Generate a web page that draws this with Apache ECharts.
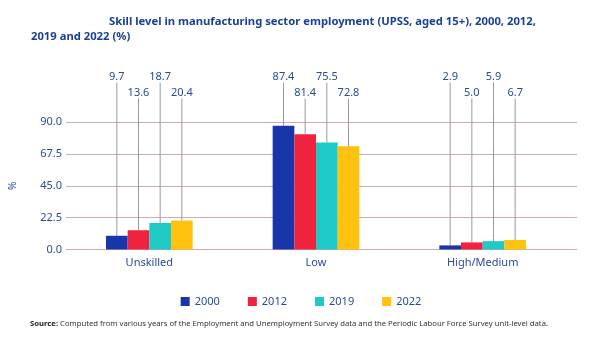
<!DOCTYPE html>
<html>
<head>
<meta charset="utf-8">
<script src="https://cdn.jsdelivr.net/npm/echarts@6/dist/echarts.min.js"></script>
<style>
html,body{margin:0;padding:0;background:#fff;}
#chart{width:602px;height:342px;}
</style>
</head>
<body>
<div id="chart"></div>
<script>
const categories = ['Unskilled', 'Low', 'High/Medium'];
const seriesNames = ['2000', '2012', '2019', '2022'];
const values2000 = [9.7, 87.4, 2.9];
const values2012 = [13.6, 81.4, 5.0];
const values2019 = [18.7, 75.5, 5.9];
const values2022 = [20.4, 72.8, 6.7];
const yTicks = [0, 22.5, 45, 67.5, 90];

const seriesValues = [values2000, values2012, values2019, values2022];
const colors = ['#1836aa', '#f0233f', '#1fc9c6', '#ffc20e'];
const labelRowY = [77, 93, 77, 93];
const FONT = 'Noto Sans';
const blueText = '#2b4a9b';

const chart = echarts.init(document.getElementById('chart'), null, {renderer: 'canvas'});

const series = seriesNames.map((name, i) => ({
  name: name,
  type: 'bar',
  xAxisIndex: 1,
  yAxisIndex: 1,
  data: seriesValues[i],
  barGap: '0%',
  barCategoryGap: '48%',
  itemStyle: {color: colors[i]},
  label: {
    show: true,
    position: 'top',
    formatter: p => p.value.toFixed(1),
    color: blueText,
    fontFamily: FONT,
    fontSize: 11
  },
  labelLine: {show: true, lineStyle: {color: '#9a9a9a', width: 1}},
  labelLayout: function (params) {
    return {y: labelRowY[params.seriesIndex], verticalAlign: 'middle', align: 'center',
            x: params.rect.x + params.rect.width / 2};
  }
}));

chart.setOption({
  animation: false,
  title: [
    {text: 'Skill level in manufacturing sector employment (UPSS, aged 15+), 2000, 2012,',
     left: 109, top: 16, padding: 0,
     textStyle: {fontFamily: FONT, fontWeight: 'bold', fontSize: 11.25, color: '#1b3f94'}},
    {text: '2019 and 2022 (%)',
     left: 31, top: 31, padding: 0,
     textStyle: {fontFamily: FONT, fontWeight: 'bold', fontSize: 11.25, color: '#1b3f94'}},
    {text: '{b|Source:} Computed from various years of the Employment and Unemployment Survey data and the Periodic Labour Force Survey unit-level data.',
     left: 30, top: 320, padding: 0,
     textStyle: {fontFamily: FONT, fontSize: 7.7, fontWeight: 'normal', color: '#333',
       rich: {b: {fontFamily: FONT, fontSize: 7.7, fontWeight: 'bold', color: '#222'}}}}
  ],
  legend: {
    data: seriesNames,
    top: 291,
    left: 'center',
    icon: 'rect',
    itemWidth: 9,
    itemHeight: 9,
    itemGap: 28,
    textStyle: {fontFamily: FONT, fontSize: 11, color: blueText}
  },
  grid: [
    {left: 57, right: 25, top: 122, bottom: 92.5},
    {left: 66, right: 36, top: 122, bottom: 92.5}
  ],
  xAxis: [
    {type: 'value', gridIndex: 0, show: false, min: 0, max: 1},
    {type: 'category', gridIndex: 1, data: categories,
     axisLine: {show: false}, axisTick: {show: false},
     axisLabel: {fontFamily: FONT, fontSize: 11, color: blueText, margin: 8}}
  ],
  yAxis: [
    {type: 'value', gridIndex: 0, min: yTicks[0], max: yTicks[yTicks.length - 1], interval: 22.5,
     name: '%', nameLocation: 'middle', nameGap: 48, nameRotate: 90,
     nameTextStyle: {fontFamily: FONT, fontSize: 10, color: blueText},
     axisLine: {show: false}, axisTick: {show: false},
     axisLabel: {fontFamily: FONT, fontSize: 11, color: blueText, margin: 4,
                 formatter: v => v.toFixed(1)},
     splitLine: {show: true, lineStyle: {color: '#d2a9b7', width: 1}}},
    {type: 'value', gridIndex: 1, min: yTicks[0], max: yTicks[yTicks.length - 1], interval: 22.5,
     show: false, splitLine: {show: false}}
  ],
  series: series
});
</script>
</body>
</html>
